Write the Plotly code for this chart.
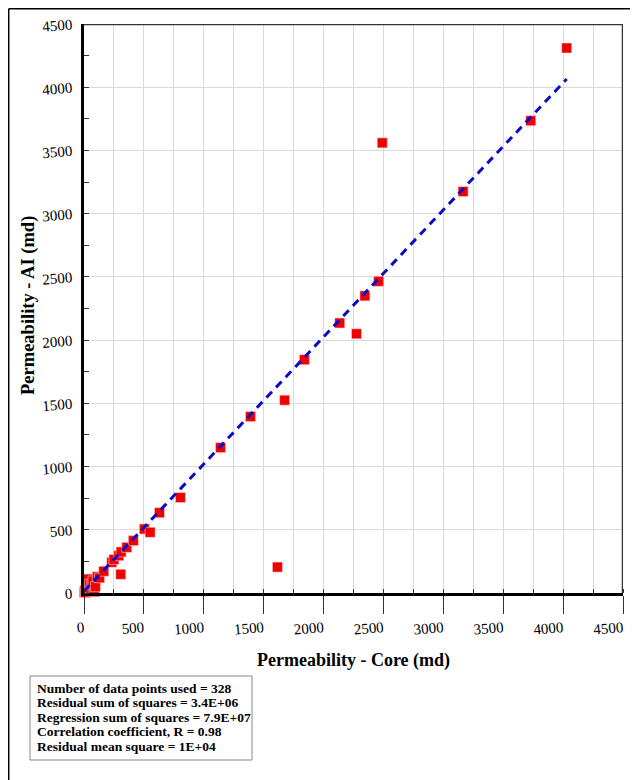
import plotly.graph_objects as go

# Data
core_perm = [2, 8, 15, 25, 35, 45, 55, 64, 75, 86, 95, 111, 130, 165, 232, 250, 290, 310,
             307, 357, 412, 504, 552, 630, 805, 1140, 1390, 1615, 1675, 1840, 2135, 2275,
             2345, 2460, 2490, 3165, 3730, 4030]
ai_perm = [5, 20, 3, 40, 110, 70, 15, 63, 95, 10, 50, 129, 120, 172, 243, 265, 295, 325,
           148, 361, 414, 506, 480, 635, 755, 1150, 1395, 205, 1525, 1845, 2135, 2050,
           2350, 2465, 3560, 3175, 3735, 4310]
fit_x = [0, 4030]
fit_y = [15, 4065]

stats_lines = [
    "Number of data points used = 328",
    "Residual sum of squares = 3.4E+06",
    "Regression sum of squares = 7.9E+07",
    "Correlation coefficient, R = 0.98",
    "Residual mean square = 1E+04",
]

FONT = "Liberation Serif, Times New Roman, serif"

# page has an 8px body margin; plot area in page pixels: x 84..623, y 24..593
OFF = 8
PL, PR, PT, PB = 84, 623, 24, 593
W, H = 630, 772

def px(xp):
    return (xp - PL) / (PR - PL)

def py(yp):
    return (PB - yp) / (PB - PT)

fig = go.Figure()
fig.add_trace(go.Scatter(
    x=core_perm, y=ai_perm, mode="markers",
    marker=dict(symbol="square", size=10, color="#f00000",
                line=dict(width=0.6, color="rgba(255,220,220,0.9)")),
    showlegend=False, cliponaxis=False))
fig.add_trace(go.Scatter(
    x=fit_x, y=fit_y, mode="lines",
    line=dict(color="#0a0ac8", width=3, dash="8px,6px"),
    showlegend=False))

fig.update_layout(
    width=W, height=H,
    margin=dict(l=PL - OFF, r=W - (PR - OFF), t=PT - OFF, b=H - (PB - OFF), autoexpand=False),
    paper_bgcolor="white", plot_bgcolor="white",
    font=dict(family=FONT, size=15, color="black"),
    xaxis=dict(
        range=[0, 4500], tickvals=list(range(0, 4501, 500)),
        showgrid=True, gridcolor="#dadada", gridwidth=1,
        showline=True, linecolor="black", linewidth=3,
        ticks="outside", ticklen=18, tickcolor="#333", tickwidth=1,
        tickangle=-5, tickfont=dict(family=FONT, size=15),
        minor=dict(dtick=250, showgrid=True, gridcolor="#dadada", gridwidth=1,
                   ticks="inside", ticklen=4, tickcolor="#333"),
        zeroline=False,
    ),
    yaxis=dict(
        range=[0, 4500], tickvals=list(range(0, 4501, 500)),
        showgrid=True, gridcolor="#dadada", gridwidth=1,
        showline=True, linecolor="black", linewidth=3,
        ticks="", ticklabelstandoff=6,
        tickangle=-5, tickfont=dict(family=FONT, size=15),
        minor=dict(dtick=250, showgrid=False,
                   ticks="inside", ticklen=5, tickcolor="#333"),
        zeroline=False,
    ),
)

# axis titles
fig.add_annotation(xref="paper", yref="paper", x=px(353), y=py(660), text="<b>Permeability - Core (md)</b>",
                   showarrow=False, font=dict(family=FONT, size=18), xanchor="center", yanchor="middle")
fig.add_annotation(xref="paper", yref="paper", x=px(28), y=py(306), text="<b>Permeability - AI (md)</b>",
                   showarrow=False, font=dict(family=FONT, size=18.5), textangle=-90,
                   xanchor="center", yanchor="middle")

# top/right frame of plot area
fig.add_shape(type="line", xref="x", yref="y", x0=0, x1=4500, y0=4500, y1=4500,
              line=dict(color="#333", width=2.5))
fig.add_shape(type="line", xref="x", yref="y", x0=4500, x1=4500, y0=0, y1=4500,
              line=dict(color="#333", width=2.5))

# outer border
fig.add_shape(type="line", xref="paper", yref="paper", x0=px(8.7), x1=px(8.7), y0=py(8.7), y1=py(780),
              line=dict(color="black", width=1.5))
fig.add_shape(type="line", xref="paper", yref="paper", x0=px(8.7), x1=px(633), y0=py(8.7), y1=py(8.7),
              line=dict(color="black", width=1.5))
fig.add_shape(type="line", xref="paper", yref="paper", x0=px(633), x1=px(633), y0=py(8.7), y1=py(640),
              line=dict(color="black", width=1.5))

# stats box
fig.add_shape(type="rect", xref="paper", yref="paper", x0=px(30), x1=px(252), y0=py(760), y1=py(676),
              line=dict(color="#888", width=1), fillcolor="white")
for i, s in enumerate(stats_lines):
    fig.add_annotation(xref="paper", yref="paper", x=px(35), y=py(688 + i * 14.5),
                       xanchor="left", yanchor="middle", text=f"<b>{s}</b>",
                       showarrow=False, font=dict(family=FONT, size=13.5, color="black"))

fig.write_html("out.html")
